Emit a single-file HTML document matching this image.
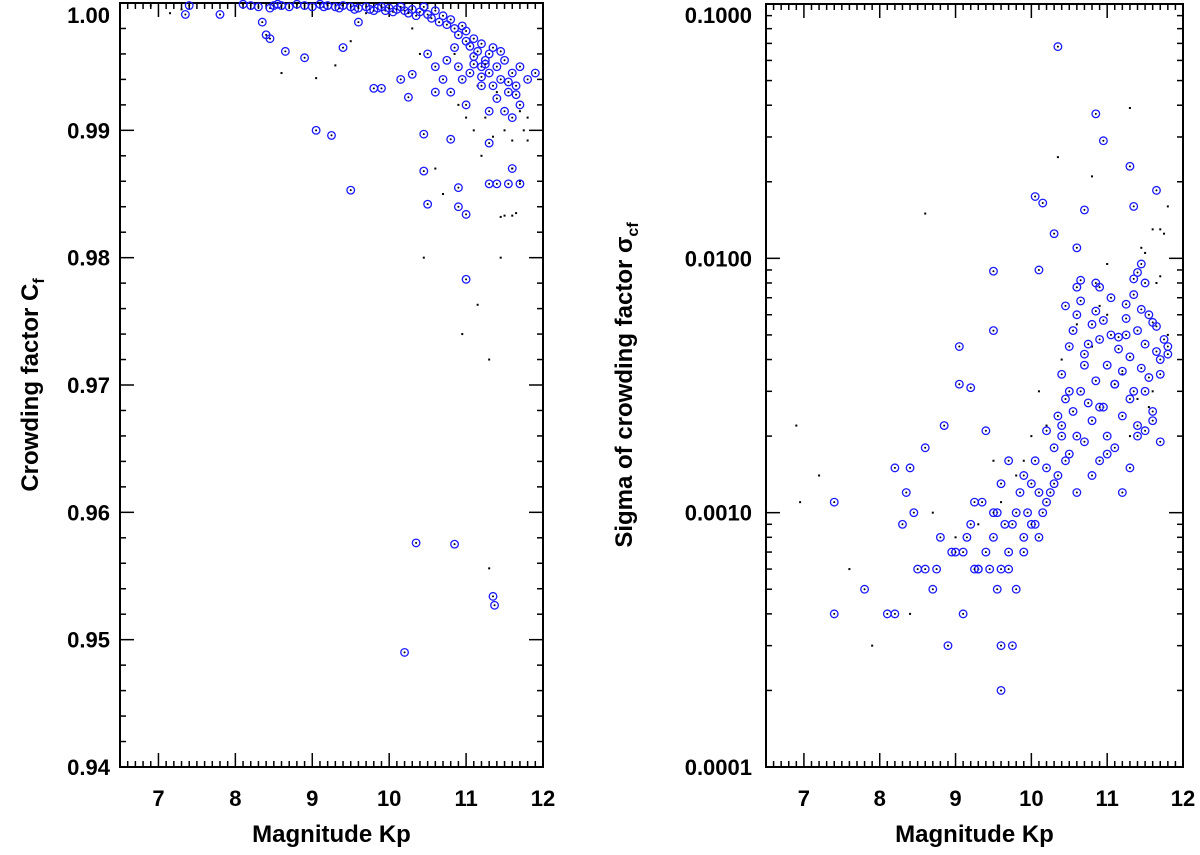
<!DOCTYPE html>
<html><head><meta charset="utf-8"><style>
html,body{margin:0;padding:0;background:#fff;}
svg{display:block;font-family:"Liberation Sans","DejaVu Sans",sans-serif;font-weight:bold;}
</style></head>
<body>
<svg id="chart" width="1200" height="855" viewBox="0 0 1200 855" xmlns="http://www.w3.org/2000/svg"></svg>
<script>
// ---- Left panel data ----
const leftCircX = [7.4,7.35,7.8,8.1,8.2,8.3,8.45,8.5,8.55,8.6,8.7,8.8,8.9,9.0,9.1,9.15,9.2,9.3,9.35,9.4,9.5,9.55,9.6,9.7,9.75,9.8,9.85,9.9,9.95,10.0,10.05,10.1,10.15,10.2,10.25,10.3,10.35,10.4,10.45,10.5,10.55,10.6,10.65,10.7,10.75,10.8,10.85,10.9,10.95,11.0,11.0,11.05,11.1,11.1,11.15,11.2,11.2,11.25,11.3,11.3,11.35,11.4,11.4,11.45,11.5,11.5,11.55,11.6,11.6,11.65,11.7,11.7,11.8,11.9,10.5,10.6,10.7,10.8,10.9,10.95,11.0,11.05,8.4,8.45,8.65,8.9,9.8,9.9,10.15,10.25,10.3,9.4,8.35,9.6,10.6,11.3,11.2,
10.2,10.35,10.85,11.35,11.37,11.0,9.5,9.05,9.25,10.9,10.9,10.5,10.45,11.3,11.4,11.6,11.55,11.7,11.0,10.45,10.8,11.3,11.1,11.2,11.45,11.55,11.65,11.25,11.35,10.75,10.85];
const leftCircY = [0.9998,0.9991,0.9991,0.9999,0.9998,0.9997,0.9996,0.9998,0.9999,0.9998,0.9997,0.9999,0.9998,0.9997,0.9999,0.9997,0.9998,0.9997,0.9996,0.9998,0.9997,0.9995,0.9996,0.9997,0.9995,0.9994,0.9996,0.9997,0.9994,0.9996,0.9993,0.9995,0.9997,0.9994,0.9992,0.9995,0.9990,0.9993,0.9997,0.9991,0.9988,0.9994,0.9985,0.9990,0.9983,0.9987,0.9980,0.9975,0.9982,0.9978,0.9970,0.9966,0.9972,0.9958,0.9962,0.9950,0.9968,0.9955,0.9945,0.9960,0.9935,0.9950,0.9925,0.9940,0.9955,0.9915,0.9930,0.9945,0.9910,0.9935,0.9920,0.9950,0.9940,0.9945,0.9960,0.9950,0.9940,0.9930,0.9950,0.9940,0.9920,0.9945,0.9975,0.9972,0.9962,0.9957,0.9933,0.9933,0.9940,0.9926,0.9944,0.9965,0.9985,0.9985,0.9930,0.9915,0.9935,
0.9490,0.9576,0.9575,0.9534,0.9527,0.9783,0.9853,0.9900,0.9896,0.9855,0.9840,0.9842,0.9868,0.9858,0.9858,0.9870,0.9858,0.9858,0.9834,0.9897,0.9893,0.9890,0.9952,0.9942,0.9962,0.9938,0.9928,0.9952,0.9965,0.9955,0.9965];
const leftDotX = [6.9,7.3,7.15,8.6,9.05,9.3,9.5,10.4,10.6,10.7,10.45,10.95,11.15,11.3,11.3,11.45,11.5,11.45,11.6,11.65,11.6,11.8,11.2,11.1,11.25,11.35,11.7,11.75,11.15,11.4,10.9,11.5,11.8,10.85,9.0,9.7,10.3,11.0,11.6,11.7];
const leftDotY = [0.9998,0.9995,0.9992,0.9945,0.9941,0.9951,0.9970,0.9960,0.9870,0.9850,0.9800,0.9740,0.9763,0.9720,0.9556,0.9800,0.9833,0.9832,0.9833,0.9835,0.9870,0.9892,0.9880,0.9900,0.9910,0.9895,0.9915,0.9900,0.9935,0.9930,0.9920,0.9900,0.9910,0.9960,0.9999,0.9992,0.9980,0.9910,0.9892,0.9860];
const leftTicks = ["0.94","0.95","0.96","0.97","0.98","0.99","1.00"];
const xTickLabels = ["7","8","9","10","11","12"];

// ---- Right panel data ----
const rightCircX = [10.35,10.85,10.95,11.3,10.05,11.65,11.35,10.15,10.7,10.3,10.6,9.5,10.1,11.45,11.4,11.35,11.5,10.65,10.85,10.9,10.6,
7.4,7.4,7.8,8.1,8.2,8.2,8.3,8.35,8.4,8.45,8.5,8.6,8.6,8.7,8.75,8.8,8.85,8.9,8.95,9.0,9.05,9.05,9.1,9.2,9.25,9.3,9.4,9.5,9.6,9.6,9.75,9.7,
9.1,9.2,9.3,9.35,9.45,9.5,9.55,9.6,9.65,9.7,9.8,9.85,9.9,9.95,10.0,10.05,10.1,10.15,10.2,10.25,10.3,10.35,10.4,
9.15,9.25,9.4,9.5,9.55,9.7,9.8,9.9,10.0,10.1,10.2,10.3,10.45,9.6,9.75,9.9,10.05,10.2,10.35,
10.4,10.45,10.5,10.55,10.6,10.65,10.7,10.75,10.8,10.85,10.9,10.95,11.0,11.05,11.1,11.15,11.2,11.25,11.3,11.35,11.4,11.45,11.5,11.55,11.6,11.65,11.7,11.75,11.8,
10.4,10.5,10.6,10.7,10.8,10.9,11.0,11.1,11.2,11.3,11.4,11.5,11.6,11.7,11.8,
10.45,10.55,10.65,10.75,10.85,10.95,11.05,11.15,11.25,11.35,11.45,11.55,11.65,
10.5,10.7,10.9,11.1,11.3,11.5,11.7,10.6,10.8,11.0,11.2,11.4,11.6,11.25];
const rightCircY = [0.068,0.037,0.029,0.023,0.0175,0.0185,0.016,0.0165,0.0155,0.0125,0.011,0.0089,0.0090,0.0095,0.0088,0.0083,0.0080,0.0082,0.0080,0.0077,0.0077,
0.0011,0.0004,0.0005,0.0004,0.0004,0.0015,0.0009,0.0012,0.0015,0.0010,0.0006,0.0018,0.0006,0.0005,0.0006,0.0008,0.0022,0.0003,0.0007,0.0007,0.0045,0.0032,0.0004,0.0031,0.0011,0.0006,0.0021,0.0052,0.0002,0.0003,0.0003,0.0016,
0.0007,0.0009,0.0006,0.0011,0.0006,0.0008,0.0010,0.0006,0.0009,0.0007,0.0010,0.0012,0.0008,0.0010,0.0013,0.0009,0.0012,0.0010,0.0015,0.0012,0.0018,0.0014,0.0020,
0.0008,0.0006,0.0007,0.0010,0.0005,0.0006,0.0005,0.0007,0.0009,0.0008,0.0011,0.0013,0.0016,0.0013,0.0009,0.0014,0.0016,0.0021,0.0024,
0.0035,0.0028,0.0045,0.0025,0.0060,0.0030,0.0042,0.0027,0.0055,0.0033,0.0048,0.0026,0.0038,0.0050,0.0032,0.0044,0.0036,0.0058,0.0041,0.0030,0.0052,0.0037,0.0046,0.0034,0.0056,0.0043,0.0040,0.0048,0.0045,
0.0022,0.0030,0.0020,0.0038,0.0023,0.0026,0.0020,0.0032,0.0024,0.0028,0.0022,0.0030,0.0025,0.0035,0.0042,
0.0065,0.0052,0.0068,0.0046,0.0062,0.0057,0.0070,0.0049,0.0066,0.0072,0.0063,0.0060,0.0054,
0.0017,0.0019,0.0016,0.0018,0.0015,0.0021,0.0019,0.0012,0.0014,0.0017,0.0012,0.0020,0.0023,0.0050];
const rightDotX = [6.9,6.95,7.2,7.6,7.9,8.6,9.9,10.35,11.3,11.45,11.6,11.7,11.8,10.8,11.0,11.5,11.7,11.75,9.0,9.3,9.6,9.8,10.0,10.2,10.4,10.6,10.8,11.0,11.2,11.4,11.6,11.8,8.4,8.7,9.5,10.1,10.9,11.3,11.55,11.65];
const rightDotY = [0.0022,0.0011,0.0014,0.0006,0.0003,0.015,0.0016,0.025,0.039,0.011,0.013,0.013,0.016,0.021,0.0095,0.0105,0.0085,0.0125,0.0008,0.0009,0.0011,0.0014,0.0020,0.0022,0.0040,0.0055,0.0045,0.0060,0.0035,0.0028,0.0030,0.0050,0.0004,0.0010,0.0016,0.0030,0.0065,0.0020,0.0026,0.0080];
const rightTicks = ["0.0001","0.0010","0.0100","0.1000"];

// ---- layout ----
const NS = "http://www.w3.org/2000/svg";
const svg = document.getElementById("chart");
function mk(tag, attrs, parent){const e=document.createElementNS(NS,tag);for(const k in attrs)e.setAttribute(k,attrs[k]);(parent||svg).appendChild(e);return e;}

const L = {x0:120,x1:543,y0:3,y1:767};
const R = {x0:766,x1:1183,y0:4,y1:767};
const xmin=6.5,xmax=12;
function xs(p,v){return p.x0+(v-xmin)/(xmax-xmin)*(p.x1-p.x0);}
function yL(v){return L.y1-(v-0.94)/0.06*(L.y1-L.y0);}
function yR(v){return R.y1-(Math.log10(v)+4)/3*(R.y1-R.y0);}

function frame(p,name){
  const r=mk("rect",{x:p.x0,y:p.y0,width:p.x1-p.x0,height:p.y1-p.y0,fill:"none",stroke:"#000","stroke-width":2});
  
  
  for(let i=66;i<=120;i++){
    const v=i/10, x=xs(p,v), major=(i%10===0), len=major?14:6;
    mk("line",{x1:x,x2:x,y1:p.y1,y2:p.y1-len,stroke:"#000","stroke-width":1.5});
    mk("line",{x1:x,x2:x,y1:p.y0,y2:p.y0+len,stroke:"#000","stroke-width":1.5});
  }
  xTickLabels.forEach(t=>{
    const tx=mk("text",{x:xs(p,+t),y:806,"font-size":22,"text-anchor":"middle"});
    tx.textContent=t;
    
    
  });
  const xt=mk("text",{x:(p.x0+p.x1)/2,y:842,"font-size":24,"text-anchor":"middle"});
  xt.textContent="Magnitude Kp";
  
  
}

// Left panel
frame(L,'left-panel');
for(let i=0;i<=30;i++){
  const v=0.94+i*0.002, y=yL(v), major=(i%5===0), len=major?14:6;
  mk("line",{x1:L.x0,x2:L.x0+len,y1:y,y2:y,stroke:"#000","stroke-width":1.5});
  mk("line",{x1:L.x1,x2:L.x1-len,y1:y,y2:y,stroke:"#000","stroke-width":1.5});
}
leftTicks.forEach(t=>{
  const tx=mk("text",{x:110,y:Math.max(yL(+t)+8,23),"font-size":22,"text-anchor":"end"});
  tx.textContent=t;
  
  
});
{
  const t=mk("text",{transform:"translate(38,385) rotate(-90)","font-size":24,"text-anchor":"middle"});
  t.innerHTML='Crowding factor C<tspan font-size="16" dy="6">f</tspan>';
  
  
}

// Right panel
frame(R,'right-panel');
for(let d=-4;d<=-1;d++){
  for(let m=1;m<=9;m++){
    if(d===-1&&m>1)break;
    const v=m*Math.pow(10,d), y=yR(v), len=(m===1)?14:6;
    mk("line",{x1:R.x0,x2:R.x0+len,y1:y,y2:y,stroke:"#000","stroke-width":1.5});
    mk("line",{x1:R.x1,x2:R.x1-len,y1:y,y2:y,stroke:"#000","stroke-width":1.5});
  }
}
rightTicks.forEach(t=>{
  const tx=mk("text",{x:752,y:Math.max(yR(+t)+8,23),"font-size":22,"text-anchor":"end"});
  tx.textContent=t;
  
  
});
{
  const t=mk("text",{transform:"translate(632,385) rotate(-90)","font-size":24,"text-anchor":"middle"});
  t.innerHTML='Sigma of crowding factor σ<tspan font-size="16" dy="6">cf</tspan>';
  
  
}

function circ(x,y,name){
  const g=mk("g",{});
  
  
  mk("circle",{cx:x,cy:y,r:3.8,fill:"none",stroke:"#1a1aff","stroke-width":1.3},g);
  mk("circle",{cx:x,cy:y,r:1,fill:"#000"},g);
}
function dot(x,y,name){
  const r=mk("rect",{x:x-1,y:y-1,width:2,height:2,fill:"#000"});
  
  
}
leftDotX.forEach((v,i)=>dot(xs(L,v),yL(leftDotY[i]),'left-dot-point'));
leftCircX.forEach((v,i)=>circ(xs(L,v),yL(leftCircY[i]),'left-circle-point'));
rightDotX.forEach((v,i)=>dot(xs(R,v),yR(rightDotY[i]),'right-dot-point'));
rightCircX.forEach((v,i)=>circ(xs(R,v),yR(rightCircY[i]),'right-circle-point'));
</script>
</body></html>
